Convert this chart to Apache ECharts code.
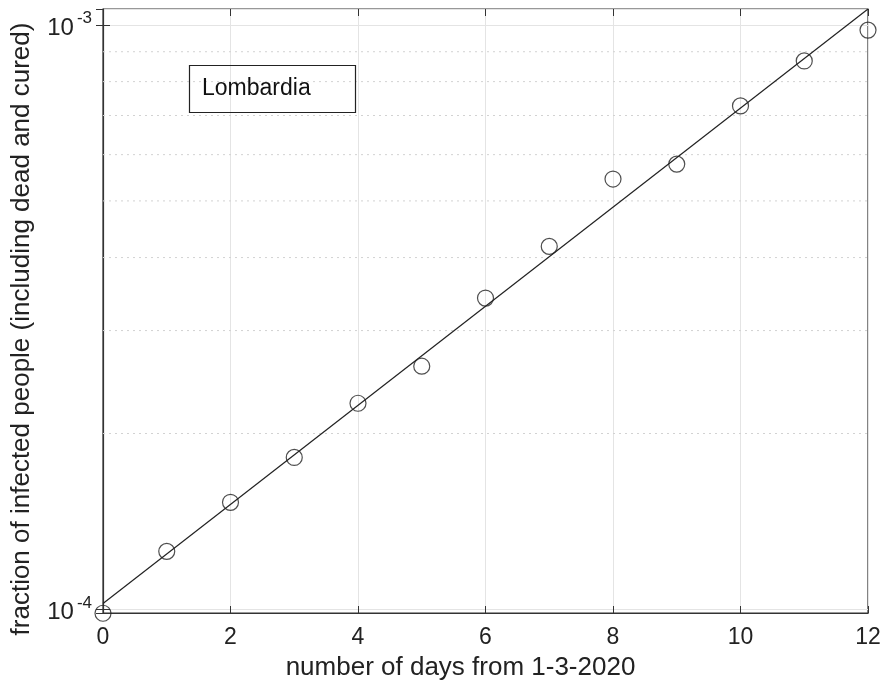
<!DOCTYPE html>
<html><head><meta charset="utf-8">
<script src="https://cdn.jsdelivr.net/npm/echarts@6/dist/echarts.min.js"></script>
<style>html,body{margin:0;padding:0;background:#fff}#c{width:883px;height:686px}</style>
</head><body><div id="c"></div>
<script>
const days = [0,1,2,3,4,5,6,7,8,9,10,11,12];
const fraction = [9.85e-5,1.257e-4,1.525e-4,1.82e-4,2.253e-4,2.607e-4,3.41e-4,4.18e-4,5.45e-4,5.78e-4,7.27e-4,8.68e-4,9.80e-4];
const fitDays = [0,12];
const fitValues = [1.024e-4,1.065e-3];
const yMin = 9.86e-5, yMax = 1.065e-3;
const minorTicks = [2e-4,3e-4,4e-4,5e-4,6e-4,7e-4,8e-4,9e-4];
const xTicks = {min:0,max:12,interval:2};
const FONT = 'Liberation Sans, Arial, Helvetica, sans-serif';

const chart = echarts.init(document.getElementById('c'));
function logLabel(v){
  const e = Math.log10(v);
  if (Math.abs(e - Math.round(e)) < 1e-6) return '{b|10}{s|' + Math.round(e) + '}';
  return '';
}
const yCommon = {type:'log', logBase:10, min:yMin, max:yMax};
const minorSeries = minorTicks.map(v => ({
  type:'line', data:[[xTicks.min,v],[xTicks.max,v]], symbol:'none', silent:true, z:1,
  lineStyle:{color:'#d2d2d2',type:[2,4],width:1}
}));
chart.setOption({
  animation:false,
  backgroundColor:'#fff',
  title:{text:'Lombardia', left:189, top:65, borderColor:'#222', borderWidth:1.2,
    padding:[12,45,12,13], textStyle:{fontFamily:FONT,fontSize:23,fontWeight:'normal',color:'#111',lineHeight:24}},
  grid:{left:103,right:15,top:9,bottom:73,show:true,borderColor:'#333',borderWidth:1.2,containLabel:false,outerBoundsMode:'none'},
  xAxis:[{type:'value',min:xTicks.min,max:xTicks.max,interval:xTicks.interval,
    name:'number of days from 1-3-2020',nameLocation:'middle',nameGap:42,
    nameTextStyle:{fontFamily:FONT,fontSize:26,color:'#222',padding:[0,50,0,0]},
    axisLine:{show:true,lineStyle:{color:'#333',width:1.2}},
    axisTick:{show:true,inside:true,length:7,lineStyle:{color:'#333'}},
    axisLabel:{fontFamily:FONT,fontSize:23,color:'#222',margin:13},
    splitLine:{show:true,lineStyle:{color:'#e4e4e4',width:1}}},
   {type:'value',position:'top',min:xTicks.min,max:xTicks.max,interval:xTicks.interval,
    axisLine:{show:false},axisTick:{show:true,inside:true,length:7,lineStyle:{color:'#333'}},
    axisLabel:{show:false},splitLine:{show:false}}],
  yAxis:[Object.assign({},yCommon,{
    name:'fraction of infected people (including dead and cured)',nameLocation:'middle',nameGap:68,
    nameTextStyle:{fontFamily:FONT,fontSize:26,color:'#222',padding:[0,36,0,0]},
    axisLine:{show:true,lineStyle:{color:'#333',width:1.2}},
    axisTick:{show:true,inside:true,length:7,lineStyle:{color:'#333'}},
    axisLabel:{formatter:logLabel,showMinLabel:false,showMaxLabel:false,margin:11,
      rich:{b:{fontFamily:FONT,fontSize:24,color:'#222',padding:[6,0,0,0]},s:{fontFamily:FONT,fontSize:17,color:'#222',verticalAlign:'top',padding:[0,0,10,3]}}},
    splitLine:{show:true,lineStyle:{color:'#e4e4e4',width:1}}}),
   Object.assign({},yCommon,{position:'right',axisLine:{show:false},
    axisTick:{show:true,inside:true,length:7,lineStyle:{color:'#333'}},
    axisLabel:{show:false},splitLine:{show:false}})],
  series:minorSeries.concat([
    {type:'line',name:'fit',data:fitDays.map((d,i)=>[d,fitValues[i]]),showSymbol:false,symbol:'none',
     lineStyle:{color:'#222',width:1.2},z:3},
    {type:'scatter',name:'data',data:days.map((d,i)=>[d,fraction[i]]),symbol:'circle',symbolSize:16,clip:false,
     itemStyle:{color:'rgba(0,0,0,0)',borderColor:'#222',borderWidth:1.2},z:4}
  ])
});
</script></body></html>
